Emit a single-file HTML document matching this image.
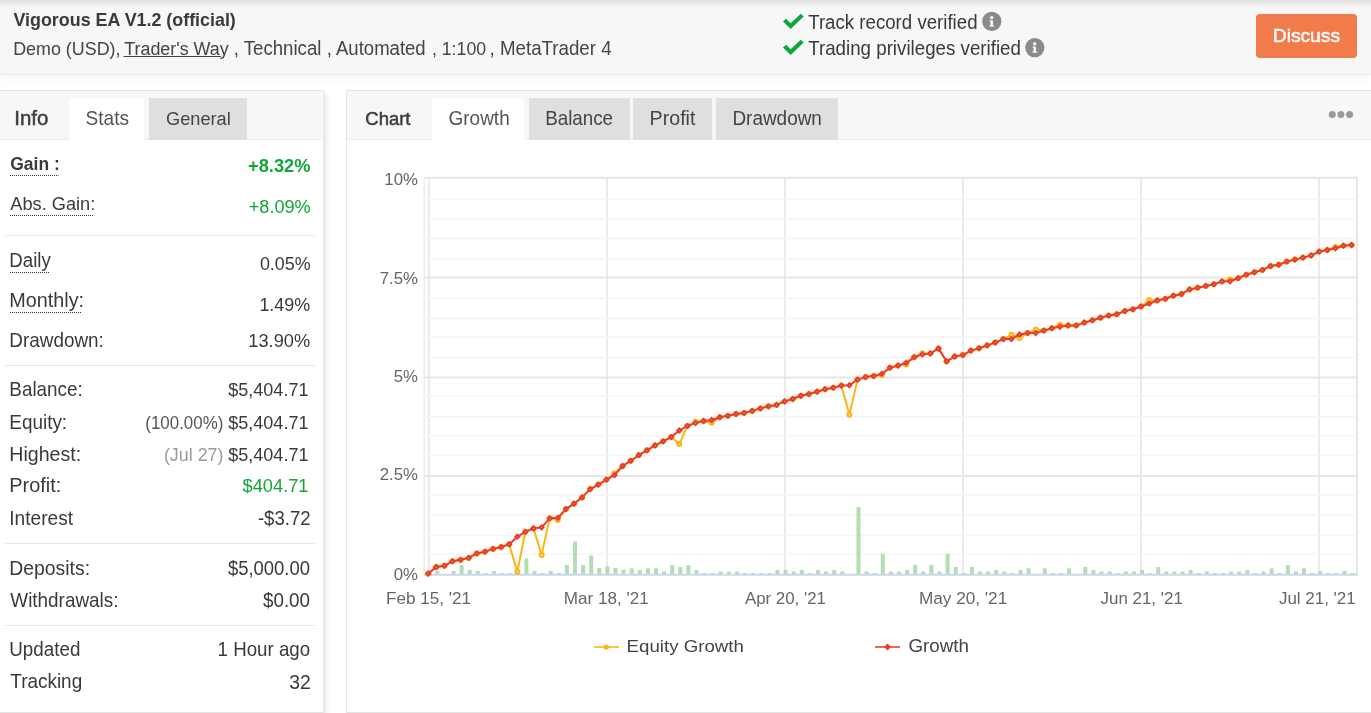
<!DOCTYPE html>
<html><head><meta charset="utf-8"><style>
html,body{margin:0;padding:0}
body{width:1371px;height:713px;overflow:hidden;position:relative;background:#fff;font-family:"Liberation Sans",sans-serif}
.t{position:absolute;white-space:nowrap}
.dot{border-bottom:1px dotted #333}
.abs{position:absolute}
</style></head><body>
<div class="abs" style="left:0;top:0;width:1371px;height:74px;background:#f7f7f7;border-bottom:1px solid #ebebeb;box-shadow:0 3px 9px rgba(0,0,0,0.045)"></div>
<div class="abs" style="left:0;top:0;width:1371px;height:8px;background:linear-gradient(#e2e2e2,#f7f7f7)"></div>
<div class="abs" style="left:1256px;top:14px;width:101px;height:44px;background:#f27b4c;border-radius:4px"></div>

<!-- left panel -->
<div class="abs" style="left:-1px;top:90px;width:323px;height:621px;border:1px solid #e4e4e4;background:#fff;box-shadow:3px 4px 5px rgba(0,0,60,0.09)"></div>
<div class="abs" style="left:0;top:91px;width:322px;height:48px;background:#f7f7f7;border-bottom:1px solid #ececec"></div>
<div class="abs" style="left:69px;top:98px;width:75px;height:43px;background:#fff"></div>
<div class="abs" style="left:149px;top:98px;width:98px;height:42px;background:#dfdfdf"></div>
<div class="abs" style="left:5px;top:235px;width:310px;height:1px;background:#e6e6e6"></div>
<div class="abs" style="left:5px;top:365px;width:310px;height:1px;background:#e6e6e6"></div>
<div class="abs" style="left:5px;top:543px;width:310px;height:1px;background:#e6e6e6"></div>
<div class="abs" style="left:5px;top:625px;width:310px;height:1px;background:#e6e6e6"></div>

<!-- chart panel -->
<div class="abs" style="left:346px;top:90px;width:1030px;height:621px;border:1px solid #e4e4e4;background:#fff"></div>
<div class="abs" style="left:347px;top:91px;width:1030px;height:48px;background:#f7f7f7;border-bottom:1px solid #ececec"></div>
<div class="abs" style="left:432px;top:98px;width:92px;height:43px;background:#fff"></div>
<div class="abs" style="left:529px;top:98px;width:101px;height:42px;background:#dfdfdf"></div>
<div class="abs" style="left:633px;top:98px;width:79px;height:42px;background:#dfdfdf"></div>
<div class="abs" style="left:716px;top:98px;width:122px;height:42px;background:#dfdfdf"></div>
<svg class="abs" style="left:0;top:0;will-change:transform" width="1371" height="713" viewBox="0 0 1371 713" font-family="Liberation Sans">
<circle cx="1332.3" cy="114.5" r="3.5" fill="#999"/><circle cx="1340.9" cy="114.5" r="3.5" fill="#999"/><circle cx="1349.6" cy="114.5" r="3.5" fill="#999"/>
<path d="M783 21.5L786 18.8L790.7 23.2L800.8 13.8L803.7 16.5L790.7 29.1Z" fill="#0aa83c"/>
<path d="M783 47.5L786 44.8L790.7 49.2L800.8 39.8L803.7 42.5L790.7 55.1Z" fill="#0aa83c"/>
<circle cx="991.8" cy="21.4" r="9.6" fill="#8a8a8a"/>
<circle cx="1034.8" cy="47.6" r="9.6" fill="#8a8a8a"/>
<g fill="#fff"><circle cx="991.7" cy="17.6" r="1.7"/><path d="M989.6 20.2h3.3v5h1.2v1.4h-4.6v-1.4h1.1v-3.6h-1z"/></g>
<g fill="#fff"><circle cx="1034.7" cy="43.8" r="1.7"/><path d="M1032.6 46.4h3.3v5h1.2v1.4h-4.6v-1.4h1.1v-3.6h-1z"/></g>
<line x1="429" x2="429" y1="178" y2="575" stroke="#e6e6e6" stroke-width="1.6"/>
<line x1="607" x2="607" y1="178" y2="575" stroke="#e6e6e6" stroke-width="1.6"/>
<line x1="785" x2="785" y1="178" y2="575" stroke="#e6e6e6" stroke-width="1.6"/>
<line x1="963" x2="963" y1="178" y2="575" stroke="#e6e6e6" stroke-width="1.6"/>
<line x1="1141" x2="1141" y1="178" y2="575" stroke="#e6e6e6" stroke-width="1.6"/>
<line x1="1319" x2="1319" y1="178" y2="575" stroke="#e6e6e6" stroke-width="1.6"/>
<line x1="424.3" x2="424.3" y1="178" y2="575" stroke="#ededed" stroke-width="1.6"/>
<line x1="1357" x2="1357" y1="177" y2="576" stroke="#e6e6e6" stroke-width="2"/>
<line x1="424" x2="1357" y1="199.6" y2="199.6" stroke="#f4f4f4" stroke-width="1.5"/>
<line x1="424" x2="1357" y1="218.9" y2="218.9" stroke="#f4f4f4" stroke-width="1.5"/>
<line x1="424" x2="1357" y1="238.4" y2="238.4" stroke="#f4f4f4" stroke-width="1.5"/>
<line x1="424" x2="1357" y1="259.0" y2="259.0" stroke="#f4f4f4" stroke-width="1.5"/>
<line x1="424" x2="1357" y1="298.2" y2="298.2" stroke="#f4f4f4" stroke-width="1.5"/>
<line x1="424" x2="1357" y1="318.6" y2="318.6" stroke="#f4f4f4" stroke-width="1.5"/>
<line x1="424" x2="1357" y1="337.1" y2="337.1" stroke="#f4f4f4" stroke-width="1.5"/>
<line x1="424" x2="1357" y1="357.5" y2="357.5" stroke="#f4f4f4" stroke-width="1.5"/>
<line x1="424" x2="1357" y1="396.2" y2="396.2" stroke="#f4f4f4" stroke-width="1.5"/>
<line x1="424" x2="1357" y1="416.8" y2="416.8" stroke="#f4f4f4" stroke-width="1.5"/>
<line x1="424" x2="1357" y1="435.6" y2="435.6" stroke="#f4f4f4" stroke-width="1.5"/>
<line x1="424" x2="1357" y1="455.6" y2="455.6" stroke="#f4f4f4" stroke-width="1.5"/>
<line x1="424" x2="1357" y1="495.0" y2="495.0" stroke="#f4f4f4" stroke-width="1.5"/>
<line x1="424" x2="1357" y1="515.1" y2="515.1" stroke="#f4f4f4" stroke-width="1.5"/>
<line x1="424" x2="1357" y1="535.6" y2="535.6" stroke="#f4f4f4" stroke-width="1.5"/>
<line x1="424" x2="1357" y1="554.1" y2="554.1" stroke="#f4f4f4" stroke-width="1.5"/>
<line x1="424" x2="1358" y1="177.7" y2="177.7" stroke="#e6e6e6" stroke-width="2"/>
<line x1="424" x2="1358" y1="277.5" y2="277.5" stroke="#e6e6e6" stroke-width="2"/>
<line x1="424" x2="1358" y1="377.5" y2="377.5" stroke="#e6e6e6" stroke-width="2"/>
<line x1="424" x2="1358" y1="476.1" y2="476.1" stroke="#e6e6e6" stroke-width="2"/>
<rect x="435.3" y="571.0" width="4" height="3" fill="#b3deb3"/>
<rect x="451.5" y="571.0" width="4" height="3" fill="#b3deb3"/>
<rect x="459.6" y="565.0" width="4" height="9" fill="#b3deb3"/>
<rect x="467.7" y="569.8" width="4" height="4.2" fill="#b3deb3"/>
<rect x="475.8" y="571.0" width="4" height="3" fill="#b3deb3"/>
<rect x="483.9" y="573.0" width="4" height="1" fill="#b3deb3"/>
<rect x="492.0" y="571.0" width="4" height="3" fill="#b3deb3"/>
<rect x="500.1" y="573.0" width="4" height="1" fill="#b3deb3"/>
<rect x="508.2" y="573.0" width="4" height="1" fill="#b3deb3"/>
<rect x="516.3" y="572.0" width="4" height="2" fill="#b3deb3"/>
<rect x="524.4" y="558.5" width="4" height="15.5" fill="#b3deb3"/>
<rect x="532.5" y="571.0" width="4" height="3" fill="#b3deb3"/>
<rect x="540.6" y="573.0" width="4" height="1" fill="#b3deb3"/>
<rect x="548.7" y="571.0" width="4" height="3" fill="#b3deb3"/>
<rect x="556.8" y="573.0" width="4" height="1" fill="#b3deb3"/>
<rect x="564.9" y="565.0" width="4" height="9" fill="#b3deb3"/>
<rect x="573.0" y="541.5" width="4" height="32.5" fill="#b3deb3"/>
<rect x="581.1" y="565.0" width="4" height="9" fill="#b3deb3"/>
<rect x="589.2" y="555.5" width="4" height="18.5" fill="#b3deb3"/>
<rect x="597.3" y="568.0" width="4" height="6" fill="#b3deb3"/>
<rect x="605.4" y="566.5" width="4" height="7.5" fill="#b3deb3"/>
<rect x="613.5" y="568.0" width="4" height="6" fill="#b3deb3"/>
<rect x="621.6" y="569.5" width="4" height="4.5" fill="#b3deb3"/>
<rect x="629.7" y="568.3" width="4" height="5.7" fill="#b3deb3"/>
<rect x="637.8" y="570.0" width="4" height="4" fill="#b3deb3"/>
<rect x="645.9" y="568.3" width="4" height="5.7" fill="#b3deb3"/>
<rect x="654.0" y="568.3" width="4" height="5.7" fill="#b3deb3"/>
<rect x="662.1" y="571.5" width="4" height="2.5" fill="#b3deb3"/>
<rect x="670.2" y="565.1" width="4" height="8.9" fill="#b3deb3"/>
<rect x="678.3" y="567.0" width="4" height="7" fill="#b3deb3"/>
<rect x="686.4" y="565.1" width="4" height="8.9" fill="#b3deb3"/>
<rect x="694.5" y="570.0" width="4" height="4" fill="#b3deb3"/>
<rect x="702.6" y="573.0" width="4" height="1" fill="#b3deb3"/>
<rect x="710.7" y="573.0" width="4" height="1" fill="#b3deb3"/>
<rect x="718.8" y="571.5" width="4" height="2.5" fill="#b3deb3"/>
<rect x="726.9" y="571.5" width="4" height="2.5" fill="#b3deb3"/>
<rect x="735.0" y="571.5" width="4" height="2.5" fill="#b3deb3"/>
<rect x="743.1" y="573.0" width="4" height="1" fill="#b3deb3"/>
<rect x="751.2" y="573.0" width="4" height="1" fill="#b3deb3"/>
<rect x="759.3" y="573.0" width="4" height="1" fill="#b3deb3"/>
<rect x="767.4" y="573.0" width="4" height="1" fill="#b3deb3"/>
<rect x="775.5" y="570.0" width="4" height="4" fill="#b3deb3"/>
<rect x="783.6" y="570.0" width="4" height="4" fill="#b3deb3"/>
<rect x="791.7" y="571.5" width="4" height="2.5" fill="#b3deb3"/>
<rect x="799.8" y="570.0" width="4" height="4" fill="#b3deb3"/>
<rect x="807.9" y="573.0" width="4" height="1" fill="#b3deb3"/>
<rect x="816.0" y="570.0" width="4" height="4" fill="#b3deb3"/>
<rect x="824.1" y="571.5" width="4" height="2.5" fill="#b3deb3"/>
<rect x="832.2" y="570.0" width="4" height="4" fill="#b3deb3"/>
<rect x="840.3" y="571.5" width="4" height="2.5" fill="#b3deb3"/>
<rect x="856.5" y="507.0" width="4" height="67" fill="#b3deb3"/>
<rect x="864.6" y="571.5" width="4" height="2.5" fill="#b3deb3"/>
<rect x="872.7" y="573.0" width="4" height="1" fill="#b3deb3"/>
<rect x="880.8" y="554.0" width="4" height="20" fill="#b3deb3"/>
<rect x="888.9" y="571.5" width="4" height="2.5" fill="#b3deb3"/>
<rect x="897.0" y="571.5" width="4" height="2.5" fill="#b3deb3"/>
<rect x="905.1" y="570.0" width="4" height="4" fill="#b3deb3"/>
<rect x="913.2" y="565.0" width="4" height="9" fill="#b3deb3"/>
<rect x="921.3" y="571.5" width="4" height="2.5" fill="#b3deb3"/>
<rect x="929.4" y="565.0" width="4" height="9" fill="#b3deb3"/>
<rect x="937.5" y="571.5" width="4" height="2.5" fill="#b3deb3"/>
<rect x="945.6" y="554.0" width="4" height="20" fill="#b3deb3"/>
<rect x="953.7" y="567.0" width="4" height="7" fill="#b3deb3"/>
<rect x="961.8" y="573.0" width="4" height="1" fill="#b3deb3"/>
<rect x="969.9" y="567.0" width="4" height="7" fill="#b3deb3"/>
<rect x="978.0" y="571.5" width="4" height="2.5" fill="#b3deb3"/>
<rect x="986.1" y="571.5" width="4" height="2.5" fill="#b3deb3"/>
<rect x="994.2" y="570.0" width="4" height="4" fill="#b3deb3"/>
<rect x="1002.3" y="571.5" width="4" height="2.5" fill="#b3deb3"/>
<rect x="1010.4" y="573.0" width="4" height="1" fill="#b3deb3"/>
<rect x="1018.5" y="570.0" width="4" height="4" fill="#b3deb3"/>
<rect x="1026.6" y="568.3" width="4" height="5.7" fill="#b3deb3"/>
<rect x="1042.8" y="568.3" width="4" height="5.7" fill="#b3deb3"/>
<rect x="1050.9" y="573.0" width="4" height="1" fill="#b3deb3"/>
<rect x="1059.0" y="573.0" width="4" height="1" fill="#b3deb3"/>
<rect x="1067.1" y="568.3" width="4" height="5.7" fill="#b3deb3"/>
<rect x="1083.3" y="567.0" width="4" height="7" fill="#b3deb3"/>
<rect x="1091.4" y="570.0" width="4" height="4" fill="#b3deb3"/>
<rect x="1099.5" y="571.5" width="4" height="2.5" fill="#b3deb3"/>
<rect x="1107.6" y="571.5" width="4" height="2.5" fill="#b3deb3"/>
<rect x="1115.7" y="573.0" width="4" height="1" fill="#b3deb3"/>
<rect x="1123.8" y="571.5" width="4" height="2.5" fill="#b3deb3"/>
<rect x="1131.9" y="571.5" width="4" height="2.5" fill="#b3deb3"/>
<rect x="1140.0" y="570.0" width="4" height="4" fill="#b3deb3"/>
<rect x="1148.1" y="573.0" width="4" height="1" fill="#b3deb3"/>
<rect x="1156.2" y="567.0" width="4" height="7" fill="#b3deb3"/>
<rect x="1164.3" y="571.5" width="4" height="2.5" fill="#b3deb3"/>
<rect x="1172.4" y="571.5" width="4" height="2.5" fill="#b3deb3"/>
<rect x="1180.5" y="571.5" width="4" height="2.5" fill="#b3deb3"/>
<rect x="1188.6" y="570.0" width="4" height="4" fill="#b3deb3"/>
<rect x="1196.7" y="573.0" width="4" height="1" fill="#b3deb3"/>
<rect x="1204.8" y="571.5" width="4" height="2.5" fill="#b3deb3"/>
<rect x="1212.9" y="573.0" width="4" height="1" fill="#b3deb3"/>
<rect x="1221.0" y="573.0" width="4" height="1" fill="#b3deb3"/>
<rect x="1229.1" y="571.5" width="4" height="2.5" fill="#b3deb3"/>
<rect x="1237.2" y="571.5" width="4" height="2.5" fill="#b3deb3"/>
<rect x="1245.3" y="570.0" width="4" height="4" fill="#b3deb3"/>
<rect x="1253.4" y="573.0" width="4" height="1" fill="#b3deb3"/>
<rect x="1261.5" y="571.5" width="4" height="2.5" fill="#b3deb3"/>
<rect x="1269.6" y="568.3" width="4" height="5.7" fill="#b3deb3"/>
<rect x="1277.7" y="573.0" width="4" height="1" fill="#b3deb3"/>
<rect x="1285.8" y="565.1" width="4" height="8.9" fill="#b3deb3"/>
<rect x="1293.9" y="571.5" width="4" height="2.5" fill="#b3deb3"/>
<rect x="1302.0" y="568.3" width="4" height="5.7" fill="#b3deb3"/>
<rect x="1310.1" y="573.0" width="4" height="1" fill="#b3deb3"/>
<rect x="1318.2" y="571.0" width="4" height="3" fill="#b3deb3"/>
<rect x="1326.3" y="573.0" width="4" height="1" fill="#b3deb3"/>
<rect x="1334.4" y="573.0" width="4" height="1" fill="#b3deb3"/>
<rect x="1342.5" y="571.0" width="4" height="3" fill="#b3deb3"/>
<rect x="1350.6" y="573.0" width="4" height="1" fill="#b3deb3"/>
<line x1="424" x2="1357" y1="574.8" y2="574.8" stroke="#ccd6eb" stroke-width="2"/>
<polyline points="428.2,573.6 436.3,567.0 444.4,565.8 452.5,561.2 460.6,559.8 468.7,557.9 476.8,553.4 484.9,551.7 493.0,548.9 501.1,547.1 509.2,544.3 517.3,571.8 525.4,531.8 533.5,528.4 541.6,554.9 549.7,518.3 557.8,519.9 565.9,509.1 574.0,503.7 582.1,497.4 590.2,489.1 598.3,484.6 606.4,479.7 614.5,473.2 622.6,466.0 630.7,460.8 638.8,455.2 646.9,450.3 655.0,445.4 663.1,441.3 671.2,437.1 679.3,444.1 687.4,425.9 695.5,421.7 703.6,421.0 711.7,422.8 719.8,417.2 727.9,415.8 736.0,414.0 744.1,412.9 752.2,410.9 760.3,408.4 768.4,406.3 776.5,404.9 784.6,401.4 792.7,399.0 800.8,395.8 808.9,394.1 817.0,391.7 825.1,389.2 833.2,387.7 841.3,385.6 849.4,414.7 857.5,379.6 865.6,377.1 873.7,376.1 881.8,375.0 889.9,367.7 898.0,365.6 906.1,364.6 914.2,357.2 922.3,353.2 930.4,353.4 938.5,348.5 946.6,361.4 954.7,356.5 962.8,355.1 970.9,350.6 979.0,348.3 987.1,345.4 995.2,342.6 1003.3,339.1 1011.4,334.8 1019.5,338.0 1027.6,333.1 1035.7,329.6 1043.8,330.6 1051.9,328.2 1060.0,324.7 1068.1,325.4 1076.2,325.4 1084.3,322.6 1092.4,320.2 1100.5,317.7 1108.6,315.6 1116.7,314.2 1124.8,311.1 1132.9,309.3 1141.0,306.5 1149.1,299.9 1157.2,300.4 1165.3,298.8 1173.4,295.7 1181.5,294.0 1189.6,289.4 1197.7,287.7 1205.8,285.9 1213.9,284.2 1222.0,281.4 1230.1,279.6 1238.2,278.2 1246.3,274.7 1254.4,272.3 1262.5,269.9 1270.6,266.1 1278.7,264.7 1286.8,261.6 1294.9,259.6 1303.0,257.6 1311.1,255.4 1319.2,251.6 1327.3,250.0 1335.4,247.0 1343.5,245.7 1351.6,245.0" fill="none" stroke="#fbb615" stroke-width="2" stroke-linejoin="round"/>
<circle cx="428.2" cy="573.6" r="3" fill="#fbb615"/><circle cx="428.2" cy="573.6" r="0.9" fill="#fde7a0"/>
<circle cx="436.3" cy="567.0" r="3" fill="#fbb615"/><circle cx="436.3" cy="567.0" r="0.9" fill="#fde7a0"/>
<circle cx="444.4" cy="565.8" r="3" fill="#fbb615"/><circle cx="444.4" cy="565.8" r="0.9" fill="#fde7a0"/>
<circle cx="452.5" cy="561.2" r="3" fill="#fbb615"/><circle cx="452.5" cy="561.2" r="0.9" fill="#fde7a0"/>
<circle cx="460.6" cy="559.8" r="3" fill="#fbb615"/><circle cx="460.6" cy="559.8" r="0.9" fill="#fde7a0"/>
<circle cx="468.7" cy="557.9" r="3" fill="#fbb615"/><circle cx="468.7" cy="557.9" r="0.9" fill="#fde7a0"/>
<circle cx="476.8" cy="553.4" r="3" fill="#fbb615"/><circle cx="476.8" cy="553.4" r="0.9" fill="#fde7a0"/>
<circle cx="484.9" cy="551.7" r="3" fill="#fbb615"/><circle cx="484.9" cy="551.7" r="0.9" fill="#fde7a0"/>
<circle cx="493.0" cy="548.9" r="3" fill="#fbb615"/><circle cx="493.0" cy="548.9" r="0.9" fill="#fde7a0"/>
<circle cx="501.1" cy="547.1" r="3" fill="#fbb615"/><circle cx="501.1" cy="547.1" r="0.9" fill="#fde7a0"/>
<circle cx="509.2" cy="544.3" r="3" fill="#fbb615"/><circle cx="509.2" cy="544.3" r="0.9" fill="#fde7a0"/>
<circle cx="517.3" cy="571.8" r="3" fill="#fbb615"/><circle cx="517.3" cy="571.8" r="0.9" fill="#fde7a0"/>
<circle cx="525.4" cy="531.8" r="3" fill="#fbb615"/><circle cx="525.4" cy="531.8" r="0.9" fill="#fde7a0"/>
<circle cx="533.5" cy="528.4" r="3" fill="#fbb615"/><circle cx="533.5" cy="528.4" r="0.9" fill="#fde7a0"/>
<circle cx="541.6" cy="554.9" r="3" fill="#fbb615"/><circle cx="541.6" cy="554.9" r="0.9" fill="#fde7a0"/>
<circle cx="549.7" cy="518.3" r="3" fill="#fbb615"/><circle cx="549.7" cy="518.3" r="0.9" fill="#fde7a0"/>
<circle cx="557.8" cy="519.9" r="3" fill="#fbb615"/><circle cx="557.8" cy="519.9" r="0.9" fill="#fde7a0"/>
<circle cx="565.9" cy="509.1" r="3" fill="#fbb615"/><circle cx="565.9" cy="509.1" r="0.9" fill="#fde7a0"/>
<circle cx="574.0" cy="503.7" r="3" fill="#fbb615"/><circle cx="574.0" cy="503.7" r="0.9" fill="#fde7a0"/>
<circle cx="582.1" cy="497.4" r="3" fill="#fbb615"/><circle cx="582.1" cy="497.4" r="0.9" fill="#fde7a0"/>
<circle cx="590.2" cy="489.1" r="3" fill="#fbb615"/><circle cx="590.2" cy="489.1" r="0.9" fill="#fde7a0"/>
<circle cx="598.3" cy="484.6" r="3" fill="#fbb615"/><circle cx="598.3" cy="484.6" r="0.9" fill="#fde7a0"/>
<circle cx="606.4" cy="479.7" r="3" fill="#fbb615"/><circle cx="606.4" cy="479.7" r="0.9" fill="#fde7a0"/>
<circle cx="614.5" cy="473.2" r="3" fill="#fbb615"/><circle cx="614.5" cy="473.2" r="0.9" fill="#fde7a0"/>
<circle cx="622.6" cy="466.0" r="3" fill="#fbb615"/><circle cx="622.6" cy="466.0" r="0.9" fill="#fde7a0"/>
<circle cx="630.7" cy="460.8" r="3" fill="#fbb615"/><circle cx="630.7" cy="460.8" r="0.9" fill="#fde7a0"/>
<circle cx="638.8" cy="455.2" r="3" fill="#fbb615"/><circle cx="638.8" cy="455.2" r="0.9" fill="#fde7a0"/>
<circle cx="646.9" cy="450.3" r="3" fill="#fbb615"/><circle cx="646.9" cy="450.3" r="0.9" fill="#fde7a0"/>
<circle cx="655.0" cy="445.4" r="3" fill="#fbb615"/><circle cx="655.0" cy="445.4" r="0.9" fill="#fde7a0"/>
<circle cx="663.1" cy="441.3" r="3" fill="#fbb615"/><circle cx="663.1" cy="441.3" r="0.9" fill="#fde7a0"/>
<circle cx="671.2" cy="437.1" r="3" fill="#fbb615"/><circle cx="671.2" cy="437.1" r="0.9" fill="#fde7a0"/>
<circle cx="679.3" cy="444.1" r="3" fill="#fbb615"/><circle cx="679.3" cy="444.1" r="0.9" fill="#fde7a0"/>
<circle cx="687.4" cy="425.9" r="3" fill="#fbb615"/><circle cx="687.4" cy="425.9" r="0.9" fill="#fde7a0"/>
<circle cx="695.5" cy="421.7" r="3" fill="#fbb615"/><circle cx="695.5" cy="421.7" r="0.9" fill="#fde7a0"/>
<circle cx="703.6" cy="421.0" r="3" fill="#fbb615"/><circle cx="703.6" cy="421.0" r="0.9" fill="#fde7a0"/>
<circle cx="711.7" cy="422.8" r="3" fill="#fbb615"/><circle cx="711.7" cy="422.8" r="0.9" fill="#fde7a0"/>
<circle cx="719.8" cy="417.2" r="3" fill="#fbb615"/><circle cx="719.8" cy="417.2" r="0.9" fill="#fde7a0"/>
<circle cx="727.9" cy="415.8" r="3" fill="#fbb615"/><circle cx="727.9" cy="415.8" r="0.9" fill="#fde7a0"/>
<circle cx="736.0" cy="414.0" r="3" fill="#fbb615"/><circle cx="736.0" cy="414.0" r="0.9" fill="#fde7a0"/>
<circle cx="744.1" cy="412.9" r="3" fill="#fbb615"/><circle cx="744.1" cy="412.9" r="0.9" fill="#fde7a0"/>
<circle cx="752.2" cy="410.9" r="3" fill="#fbb615"/><circle cx="752.2" cy="410.9" r="0.9" fill="#fde7a0"/>
<circle cx="760.3" cy="408.4" r="3" fill="#fbb615"/><circle cx="760.3" cy="408.4" r="0.9" fill="#fde7a0"/>
<circle cx="768.4" cy="406.3" r="3" fill="#fbb615"/><circle cx="768.4" cy="406.3" r="0.9" fill="#fde7a0"/>
<circle cx="776.5" cy="404.9" r="3" fill="#fbb615"/><circle cx="776.5" cy="404.9" r="0.9" fill="#fde7a0"/>
<circle cx="784.6" cy="401.4" r="3" fill="#fbb615"/><circle cx="784.6" cy="401.4" r="0.9" fill="#fde7a0"/>
<circle cx="792.7" cy="399.0" r="3" fill="#fbb615"/><circle cx="792.7" cy="399.0" r="0.9" fill="#fde7a0"/>
<circle cx="800.8" cy="395.8" r="3" fill="#fbb615"/><circle cx="800.8" cy="395.8" r="0.9" fill="#fde7a0"/>
<circle cx="808.9" cy="394.1" r="3" fill="#fbb615"/><circle cx="808.9" cy="394.1" r="0.9" fill="#fde7a0"/>
<circle cx="817.0" cy="391.7" r="3" fill="#fbb615"/><circle cx="817.0" cy="391.7" r="0.9" fill="#fde7a0"/>
<circle cx="825.1" cy="389.2" r="3" fill="#fbb615"/><circle cx="825.1" cy="389.2" r="0.9" fill="#fde7a0"/>
<circle cx="833.2" cy="387.7" r="3" fill="#fbb615"/><circle cx="833.2" cy="387.7" r="0.9" fill="#fde7a0"/>
<circle cx="841.3" cy="385.6" r="3" fill="#fbb615"/><circle cx="841.3" cy="385.6" r="0.9" fill="#fde7a0"/>
<circle cx="849.4" cy="414.7" r="3" fill="#fbb615"/><circle cx="849.4" cy="414.7" r="0.9" fill="#fde7a0"/>
<circle cx="857.5" cy="379.6" r="3" fill="#fbb615"/><circle cx="857.5" cy="379.6" r="0.9" fill="#fde7a0"/>
<circle cx="865.6" cy="377.1" r="3" fill="#fbb615"/><circle cx="865.6" cy="377.1" r="0.9" fill="#fde7a0"/>
<circle cx="873.7" cy="376.1" r="3" fill="#fbb615"/><circle cx="873.7" cy="376.1" r="0.9" fill="#fde7a0"/>
<circle cx="881.8" cy="375.0" r="3" fill="#fbb615"/><circle cx="881.8" cy="375.0" r="0.9" fill="#fde7a0"/>
<circle cx="889.9" cy="367.7" r="3" fill="#fbb615"/><circle cx="889.9" cy="367.7" r="0.9" fill="#fde7a0"/>
<circle cx="898.0" cy="365.6" r="3" fill="#fbb615"/><circle cx="898.0" cy="365.6" r="0.9" fill="#fde7a0"/>
<circle cx="906.1" cy="364.6" r="3" fill="#fbb615"/><circle cx="906.1" cy="364.6" r="0.9" fill="#fde7a0"/>
<circle cx="914.2" cy="357.2" r="3" fill="#fbb615"/><circle cx="914.2" cy="357.2" r="0.9" fill="#fde7a0"/>
<circle cx="922.3" cy="353.2" r="3" fill="#fbb615"/><circle cx="922.3" cy="353.2" r="0.9" fill="#fde7a0"/>
<circle cx="930.4" cy="353.4" r="3" fill="#fbb615"/><circle cx="930.4" cy="353.4" r="0.9" fill="#fde7a0"/>
<circle cx="938.5" cy="348.5" r="3" fill="#fbb615"/><circle cx="938.5" cy="348.5" r="0.9" fill="#fde7a0"/>
<circle cx="946.6" cy="361.4" r="3" fill="#fbb615"/><circle cx="946.6" cy="361.4" r="0.9" fill="#fde7a0"/>
<circle cx="954.7" cy="356.5" r="3" fill="#fbb615"/><circle cx="954.7" cy="356.5" r="0.9" fill="#fde7a0"/>
<circle cx="962.8" cy="355.1" r="3" fill="#fbb615"/><circle cx="962.8" cy="355.1" r="0.9" fill="#fde7a0"/>
<circle cx="970.9" cy="350.6" r="3" fill="#fbb615"/><circle cx="970.9" cy="350.6" r="0.9" fill="#fde7a0"/>
<circle cx="979.0" cy="348.3" r="3" fill="#fbb615"/><circle cx="979.0" cy="348.3" r="0.9" fill="#fde7a0"/>
<circle cx="987.1" cy="345.4" r="3" fill="#fbb615"/><circle cx="987.1" cy="345.4" r="0.9" fill="#fde7a0"/>
<circle cx="995.2" cy="342.6" r="3" fill="#fbb615"/><circle cx="995.2" cy="342.6" r="0.9" fill="#fde7a0"/>
<circle cx="1003.3" cy="339.1" r="3" fill="#fbb615"/><circle cx="1003.3" cy="339.1" r="0.9" fill="#fde7a0"/>
<circle cx="1011.4" cy="334.8" r="3" fill="#fbb615"/><circle cx="1011.4" cy="334.8" r="0.9" fill="#fde7a0"/>
<circle cx="1019.5" cy="338.0" r="3" fill="#fbb615"/><circle cx="1019.5" cy="338.0" r="0.9" fill="#fde7a0"/>
<circle cx="1027.6" cy="333.1" r="3" fill="#fbb615"/><circle cx="1027.6" cy="333.1" r="0.9" fill="#fde7a0"/>
<circle cx="1035.7" cy="329.6" r="3" fill="#fbb615"/><circle cx="1035.7" cy="329.6" r="0.9" fill="#fde7a0"/>
<circle cx="1043.8" cy="330.6" r="3" fill="#fbb615"/><circle cx="1043.8" cy="330.6" r="0.9" fill="#fde7a0"/>
<circle cx="1051.9" cy="328.2" r="3" fill="#fbb615"/><circle cx="1051.9" cy="328.2" r="0.9" fill="#fde7a0"/>
<circle cx="1060.0" cy="324.7" r="3" fill="#fbb615"/><circle cx="1060.0" cy="324.7" r="0.9" fill="#fde7a0"/>
<circle cx="1068.1" cy="325.4" r="3" fill="#fbb615"/><circle cx="1068.1" cy="325.4" r="0.9" fill="#fde7a0"/>
<circle cx="1076.2" cy="325.4" r="3" fill="#fbb615"/><circle cx="1076.2" cy="325.4" r="0.9" fill="#fde7a0"/>
<circle cx="1084.3" cy="322.6" r="3" fill="#fbb615"/><circle cx="1084.3" cy="322.6" r="0.9" fill="#fde7a0"/>
<circle cx="1092.4" cy="320.2" r="3" fill="#fbb615"/><circle cx="1092.4" cy="320.2" r="0.9" fill="#fde7a0"/>
<circle cx="1100.5" cy="317.7" r="3" fill="#fbb615"/><circle cx="1100.5" cy="317.7" r="0.9" fill="#fde7a0"/>
<circle cx="1108.6" cy="315.6" r="3" fill="#fbb615"/><circle cx="1108.6" cy="315.6" r="0.9" fill="#fde7a0"/>
<circle cx="1116.7" cy="314.2" r="3" fill="#fbb615"/><circle cx="1116.7" cy="314.2" r="0.9" fill="#fde7a0"/>
<circle cx="1124.8" cy="311.1" r="3" fill="#fbb615"/><circle cx="1124.8" cy="311.1" r="0.9" fill="#fde7a0"/>
<circle cx="1132.9" cy="309.3" r="3" fill="#fbb615"/><circle cx="1132.9" cy="309.3" r="0.9" fill="#fde7a0"/>
<circle cx="1141.0" cy="306.5" r="3" fill="#fbb615"/><circle cx="1141.0" cy="306.5" r="0.9" fill="#fde7a0"/>
<circle cx="1149.1" cy="299.9" r="3" fill="#fbb615"/><circle cx="1149.1" cy="299.9" r="0.9" fill="#fde7a0"/>
<circle cx="1157.2" cy="300.4" r="3" fill="#fbb615"/><circle cx="1157.2" cy="300.4" r="0.9" fill="#fde7a0"/>
<circle cx="1165.3" cy="298.8" r="3" fill="#fbb615"/><circle cx="1165.3" cy="298.8" r="0.9" fill="#fde7a0"/>
<circle cx="1173.4" cy="295.7" r="3" fill="#fbb615"/><circle cx="1173.4" cy="295.7" r="0.9" fill="#fde7a0"/>
<circle cx="1181.5" cy="294.0" r="3" fill="#fbb615"/><circle cx="1181.5" cy="294.0" r="0.9" fill="#fde7a0"/>
<circle cx="1189.6" cy="289.4" r="3" fill="#fbb615"/><circle cx="1189.6" cy="289.4" r="0.9" fill="#fde7a0"/>
<circle cx="1197.7" cy="287.7" r="3" fill="#fbb615"/><circle cx="1197.7" cy="287.7" r="0.9" fill="#fde7a0"/>
<circle cx="1205.8" cy="285.9" r="3" fill="#fbb615"/><circle cx="1205.8" cy="285.9" r="0.9" fill="#fde7a0"/>
<circle cx="1213.9" cy="284.2" r="3" fill="#fbb615"/><circle cx="1213.9" cy="284.2" r="0.9" fill="#fde7a0"/>
<circle cx="1222.0" cy="281.4" r="3" fill="#fbb615"/><circle cx="1222.0" cy="281.4" r="0.9" fill="#fde7a0"/>
<circle cx="1230.1" cy="279.6" r="3" fill="#fbb615"/><circle cx="1230.1" cy="279.6" r="0.9" fill="#fde7a0"/>
<circle cx="1238.2" cy="278.2" r="3" fill="#fbb615"/><circle cx="1238.2" cy="278.2" r="0.9" fill="#fde7a0"/>
<circle cx="1246.3" cy="274.7" r="3" fill="#fbb615"/><circle cx="1246.3" cy="274.7" r="0.9" fill="#fde7a0"/>
<circle cx="1254.4" cy="272.3" r="3" fill="#fbb615"/><circle cx="1254.4" cy="272.3" r="0.9" fill="#fde7a0"/>
<circle cx="1262.5" cy="269.9" r="3" fill="#fbb615"/><circle cx="1262.5" cy="269.9" r="0.9" fill="#fde7a0"/>
<circle cx="1270.6" cy="266.1" r="3" fill="#fbb615"/><circle cx="1270.6" cy="266.1" r="0.9" fill="#fde7a0"/>
<circle cx="1278.7" cy="264.7" r="3" fill="#fbb615"/><circle cx="1278.7" cy="264.7" r="0.9" fill="#fde7a0"/>
<circle cx="1286.8" cy="261.6" r="3" fill="#fbb615"/><circle cx="1286.8" cy="261.6" r="0.9" fill="#fde7a0"/>
<circle cx="1294.9" cy="259.6" r="3" fill="#fbb615"/><circle cx="1294.9" cy="259.6" r="0.9" fill="#fde7a0"/>
<circle cx="1303.0" cy="257.6" r="3" fill="#fbb615"/><circle cx="1303.0" cy="257.6" r="0.9" fill="#fde7a0"/>
<circle cx="1311.1" cy="255.4" r="3" fill="#fbb615"/><circle cx="1311.1" cy="255.4" r="0.9" fill="#fde7a0"/>
<circle cx="1319.2" cy="251.6" r="3" fill="#fbb615"/><circle cx="1319.2" cy="251.6" r="0.9" fill="#fde7a0"/>
<circle cx="1327.3" cy="250.0" r="3" fill="#fbb615"/><circle cx="1327.3" cy="250.0" r="0.9" fill="#fde7a0"/>
<circle cx="1335.4" cy="247.0" r="3" fill="#fbb615"/><circle cx="1335.4" cy="247.0" r="0.9" fill="#fde7a0"/>
<circle cx="1343.5" cy="245.7" r="3" fill="#fbb615"/><circle cx="1343.5" cy="245.7" r="0.9" fill="#fde7a0"/>
<circle cx="1351.6" cy="245.0" r="3" fill="#fbb615"/><circle cx="1351.6" cy="245.0" r="0.9" fill="#fde7a0"/>
<polyline points="428.2,573.6 436.3,567.0 444.4,565.8 452.5,561.2 460.6,559.8 468.7,557.9 476.8,553.4 484.9,551.7 493.0,548.9 501.1,547.1 509.2,544.3 517.3,536.7 525.4,531.8 533.5,528.4 541.6,527.3 549.7,518.3 557.8,517.8 565.9,509.1 574.0,503.7 582.1,497.4 590.2,489.1 598.3,484.6 606.4,479.7 614.5,475.2 622.6,466.0 630.7,460.8 638.8,455.2 646.9,450.3 655.0,445.4 663.1,441.3 671.2,437.1 679.3,430.5 687.4,425.9 695.5,423.1 703.6,421.0 711.7,420.0 719.8,417.2 727.9,415.8 736.0,414.0 744.1,412.9 752.2,410.9 760.3,408.4 768.4,406.3 776.5,404.9 784.6,401.4 792.7,399.0 800.8,395.8 808.9,394.1 817.0,391.7 825.1,389.2 833.2,387.7 841.3,385.6 849.4,385.2 857.5,379.6 865.6,377.1 873.7,376.1 881.8,373.7 889.9,367.7 898.0,365.6 906.1,362.8 914.2,357.2 922.3,354.4 930.4,353.4 938.5,348.5 946.6,361.4 954.7,356.5 962.8,355.1 970.9,350.6 979.0,348.3 987.1,345.4 995.2,342.6 1003.3,339.1 1011.4,339.1 1019.5,334.5 1027.6,333.1 1035.7,333.1 1043.8,330.6 1051.9,328.2 1060.0,326.8 1068.1,325.4 1076.2,325.4 1084.3,322.6 1092.4,320.2 1100.5,317.7 1108.6,315.6 1116.7,314.2 1124.8,311.1 1132.9,309.3 1141.0,306.5 1149.1,303.7 1157.2,300.4 1165.3,298.8 1173.4,295.7 1181.5,294.0 1189.6,289.4 1197.7,287.7 1205.8,285.9 1213.9,284.2 1222.0,281.4 1230.1,281.3 1238.2,278.2 1246.3,274.7 1254.4,272.3 1262.5,269.9 1270.6,266.1 1278.7,264.7 1286.8,261.6 1294.9,259.6 1303.0,257.6 1311.1,255.4 1319.2,251.6 1327.3,250.0 1335.4,248.3 1343.5,245.7 1351.6,245.0" fill="none" stroke="#e8402e" stroke-width="2" stroke-linejoin="round"/>
<path d="M428.2 570.2L431.6 573.6L428.2 577.0L424.8 573.6Z" fill="#e83a2c"/><circle cx="428.2" cy="573.6" r="0.55" fill="#f4a095"/>
<path d="M436.3 563.6L439.7 567.0L436.3 570.4L432.9 567.0Z" fill="#e83a2c"/><circle cx="436.3" cy="567.0" r="0.55" fill="#f4a095"/>
<path d="M444.4 562.4L447.8 565.8L444.4 569.2L441.0 565.8Z" fill="#e83a2c"/><circle cx="444.4" cy="565.8" r="0.55" fill="#f4a095"/>
<path d="M452.5 557.8L455.9 561.2L452.5 564.6L449.1 561.2Z" fill="#e83a2c"/><circle cx="452.5" cy="561.2" r="0.55" fill="#f4a095"/>
<path d="M460.6 556.4L464.0 559.8L460.6 563.2L457.2 559.8Z" fill="#e83a2c"/><circle cx="460.6" cy="559.8" r="0.55" fill="#f4a095"/>
<path d="M468.7 554.5L472.1 557.9L468.7 561.3L465.3 557.9Z" fill="#e83a2c"/><circle cx="468.7" cy="557.9" r="0.55" fill="#f4a095"/>
<path d="M476.8 550.0L480.2 553.4L476.8 556.8L473.4 553.4Z" fill="#e83a2c"/><circle cx="476.8" cy="553.4" r="0.55" fill="#f4a095"/>
<path d="M484.9 548.3L488.3 551.7L484.9 555.1L481.5 551.7Z" fill="#e83a2c"/><circle cx="484.9" cy="551.7" r="0.55" fill="#f4a095"/>
<path d="M493.0 545.5L496.4 548.9L493.0 552.3L489.6 548.9Z" fill="#e83a2c"/><circle cx="493.0" cy="548.9" r="0.55" fill="#f4a095"/>
<path d="M501.1 543.7L504.5 547.1L501.1 550.5L497.7 547.1Z" fill="#e83a2c"/><circle cx="501.1" cy="547.1" r="0.55" fill="#f4a095"/>
<path d="M509.2 540.9L512.6 544.3L509.2 547.7L505.8 544.3Z" fill="#e83a2c"/><circle cx="509.2" cy="544.3" r="0.55" fill="#f4a095"/>
<path d="M517.3 533.3L520.7 536.7L517.3 540.1L513.9 536.7Z" fill="#e83a2c"/><circle cx="517.3" cy="536.7" r="0.55" fill="#f4a095"/>
<path d="M525.4 528.4L528.8 531.8L525.4 535.2L522.0 531.8Z" fill="#e83a2c"/><circle cx="525.4" cy="531.8" r="0.55" fill="#f4a095"/>
<path d="M533.5 525.0L536.9 528.4L533.5 531.8L530.1 528.4Z" fill="#e83a2c"/><circle cx="533.5" cy="528.4" r="0.55" fill="#f4a095"/>
<path d="M541.6 523.9L545.0 527.3L541.6 530.7L538.2 527.3Z" fill="#e83a2c"/><circle cx="541.6" cy="527.3" r="0.55" fill="#f4a095"/>
<path d="M549.7 514.9L553.1 518.3L549.7 521.7L546.3 518.3Z" fill="#e83a2c"/><circle cx="549.7" cy="518.3" r="0.55" fill="#f4a095"/>
<path d="M557.8 514.4L561.2 517.8L557.8 521.2L554.4 517.8Z" fill="#e83a2c"/><circle cx="557.8" cy="517.8" r="0.55" fill="#f4a095"/>
<path d="M565.9 505.7L569.3 509.1L565.9 512.5L562.5 509.1Z" fill="#e83a2c"/><circle cx="565.9" cy="509.1" r="0.55" fill="#f4a095"/>
<path d="M574.0 500.3L577.4 503.7L574.0 507.1L570.6 503.7Z" fill="#e83a2c"/><circle cx="574.0" cy="503.7" r="0.55" fill="#f4a095"/>
<path d="M582.1 494.0L585.5 497.4L582.1 500.8L578.7 497.4Z" fill="#e83a2c"/><circle cx="582.1" cy="497.4" r="0.55" fill="#f4a095"/>
<path d="M590.2 485.7L593.6 489.1L590.2 492.5L586.8 489.1Z" fill="#e83a2c"/><circle cx="590.2" cy="489.1" r="0.55" fill="#f4a095"/>
<path d="M598.3 481.2L601.7 484.6L598.3 488.0L594.9 484.6Z" fill="#e83a2c"/><circle cx="598.3" cy="484.6" r="0.55" fill="#f4a095"/>
<path d="M606.4 476.3L609.8 479.7L606.4 483.1L603.0 479.7Z" fill="#e83a2c"/><circle cx="606.4" cy="479.7" r="0.55" fill="#f4a095"/>
<path d="M614.5 471.8L617.9 475.2L614.5 478.6L611.1 475.2Z" fill="#e83a2c"/><circle cx="614.5" cy="475.2" r="0.55" fill="#f4a095"/>
<path d="M622.6 462.6L626.0 466.0L622.6 469.4L619.2 466.0Z" fill="#e83a2c"/><circle cx="622.6" cy="466.0" r="0.55" fill="#f4a095"/>
<path d="M630.7 457.4L634.1 460.8L630.7 464.2L627.3 460.8Z" fill="#e83a2c"/><circle cx="630.7" cy="460.8" r="0.55" fill="#f4a095"/>
<path d="M638.8 451.8L642.2 455.2L638.8 458.6L635.4 455.2Z" fill="#e83a2c"/><circle cx="638.8" cy="455.2" r="0.55" fill="#f4a095"/>
<path d="M646.9 446.9L650.3 450.3L646.9 453.7L643.5 450.3Z" fill="#e83a2c"/><circle cx="646.9" cy="450.3" r="0.55" fill="#f4a095"/>
<path d="M655.0 442.0L658.4 445.4L655.0 448.8L651.6 445.4Z" fill="#e83a2c"/><circle cx="655.0" cy="445.4" r="0.55" fill="#f4a095"/>
<path d="M663.1 437.9L666.5 441.3L663.1 444.7L659.7 441.3Z" fill="#e83a2c"/><circle cx="663.1" cy="441.3" r="0.55" fill="#f4a095"/>
<path d="M671.2 433.7L674.6 437.1L671.2 440.5L667.8 437.1Z" fill="#e83a2c"/><circle cx="671.2" cy="437.1" r="0.55" fill="#f4a095"/>
<path d="M679.3 427.1L682.7 430.5L679.3 433.9L675.9 430.5Z" fill="#e83a2c"/><circle cx="679.3" cy="430.5" r="0.55" fill="#f4a095"/>
<path d="M687.4 422.5L690.8 425.9L687.4 429.3L684.0 425.9Z" fill="#e83a2c"/><circle cx="687.4" cy="425.9" r="0.55" fill="#f4a095"/>
<path d="M695.5 419.7L698.9 423.1L695.5 426.5L692.1 423.1Z" fill="#e83a2c"/><circle cx="695.5" cy="423.1" r="0.55" fill="#f4a095"/>
<path d="M703.6 417.6L707.0 421.0L703.6 424.4L700.2 421.0Z" fill="#e83a2c"/><circle cx="703.6" cy="421.0" r="0.55" fill="#f4a095"/>
<path d="M711.7 416.6L715.1 420.0L711.7 423.4L708.3 420.0Z" fill="#e83a2c"/><circle cx="711.7" cy="420.0" r="0.55" fill="#f4a095"/>
<path d="M719.8 413.8L723.2 417.2L719.8 420.6L716.4 417.2Z" fill="#e83a2c"/><circle cx="719.8" cy="417.2" r="0.55" fill="#f4a095"/>
<path d="M727.9 412.4L731.3 415.8L727.9 419.2L724.5 415.8Z" fill="#e83a2c"/><circle cx="727.9" cy="415.8" r="0.55" fill="#f4a095"/>
<path d="M736.0 410.6L739.4 414.0L736.0 417.4L732.6 414.0Z" fill="#e83a2c"/><circle cx="736.0" cy="414.0" r="0.55" fill="#f4a095"/>
<path d="M744.1 409.5L747.5 412.9L744.1 416.3L740.7 412.9Z" fill="#e83a2c"/><circle cx="744.1" cy="412.9" r="0.55" fill="#f4a095"/>
<path d="M752.2 407.5L755.6 410.9L752.2 414.3L748.8 410.9Z" fill="#e83a2c"/><circle cx="752.2" cy="410.9" r="0.55" fill="#f4a095"/>
<path d="M760.3 405.0L763.7 408.4L760.3 411.8L756.9 408.4Z" fill="#e83a2c"/><circle cx="760.3" cy="408.4" r="0.55" fill="#f4a095"/>
<path d="M768.4 402.9L771.8 406.3L768.4 409.7L765.0 406.3Z" fill="#e83a2c"/><circle cx="768.4" cy="406.3" r="0.55" fill="#f4a095"/>
<path d="M776.5 401.5L779.9 404.9L776.5 408.3L773.1 404.9Z" fill="#e83a2c"/><circle cx="776.5" cy="404.9" r="0.55" fill="#f4a095"/>
<path d="M784.6 398.0L788.0 401.4L784.6 404.8L781.2 401.4Z" fill="#e83a2c"/><circle cx="784.6" cy="401.4" r="0.55" fill="#f4a095"/>
<path d="M792.7 395.6L796.1 399.0L792.7 402.4L789.3 399.0Z" fill="#e83a2c"/><circle cx="792.7" cy="399.0" r="0.55" fill="#f4a095"/>
<path d="M800.8 392.4L804.2 395.8L800.8 399.2L797.4 395.8Z" fill="#e83a2c"/><circle cx="800.8" cy="395.8" r="0.55" fill="#f4a095"/>
<path d="M808.9 390.7L812.3 394.1L808.9 397.5L805.5 394.1Z" fill="#e83a2c"/><circle cx="808.9" cy="394.1" r="0.55" fill="#f4a095"/>
<path d="M817.0 388.3L820.4 391.7L817.0 395.1L813.6 391.7Z" fill="#e83a2c"/><circle cx="817.0" cy="391.7" r="0.55" fill="#f4a095"/>
<path d="M825.1 385.8L828.5 389.2L825.1 392.6L821.7 389.2Z" fill="#e83a2c"/><circle cx="825.1" cy="389.2" r="0.55" fill="#f4a095"/>
<path d="M833.2 384.3L836.6 387.7L833.2 391.1L829.8 387.7Z" fill="#e83a2c"/><circle cx="833.2" cy="387.7" r="0.55" fill="#f4a095"/>
<path d="M841.3 382.2L844.7 385.6L841.3 389.0L837.9 385.6Z" fill="#e83a2c"/><circle cx="841.3" cy="385.6" r="0.55" fill="#f4a095"/>
<path d="M849.4 381.8L852.8 385.2L849.4 388.6L846.0 385.2Z" fill="#e83a2c"/><circle cx="849.4" cy="385.2" r="0.55" fill="#f4a095"/>
<path d="M857.5 376.2L860.9 379.6L857.5 383.0L854.1 379.6Z" fill="#e83a2c"/><circle cx="857.5" cy="379.6" r="0.55" fill="#f4a095"/>
<path d="M865.6 373.7L869.0 377.1L865.6 380.5L862.2 377.1Z" fill="#e83a2c"/><circle cx="865.6" cy="377.1" r="0.55" fill="#f4a095"/>
<path d="M873.7 372.7L877.1 376.1L873.7 379.5L870.3 376.1Z" fill="#e83a2c"/><circle cx="873.7" cy="376.1" r="0.55" fill="#f4a095"/>
<path d="M881.8 370.3L885.2 373.7L881.8 377.1L878.4 373.7Z" fill="#e83a2c"/><circle cx="881.8" cy="373.7" r="0.55" fill="#f4a095"/>
<path d="M889.9 364.3L893.3 367.7L889.9 371.1L886.5 367.7Z" fill="#e83a2c"/><circle cx="889.9" cy="367.7" r="0.55" fill="#f4a095"/>
<path d="M898.0 362.2L901.4 365.6L898.0 369.0L894.6 365.6Z" fill="#e83a2c"/><circle cx="898.0" cy="365.6" r="0.55" fill="#f4a095"/>
<path d="M906.1 359.4L909.5 362.8L906.1 366.2L902.7 362.8Z" fill="#e83a2c"/><circle cx="906.1" cy="362.8" r="0.55" fill="#f4a095"/>
<path d="M914.2 353.8L917.6 357.2L914.2 360.6L910.8 357.2Z" fill="#e83a2c"/><circle cx="914.2" cy="357.2" r="0.55" fill="#f4a095"/>
<path d="M922.3 351.0L925.7 354.4L922.3 357.8L918.9 354.4Z" fill="#e83a2c"/><circle cx="922.3" cy="354.4" r="0.55" fill="#f4a095"/>
<path d="M930.4 350.0L933.8 353.4L930.4 356.8L927.0 353.4Z" fill="#e83a2c"/><circle cx="930.4" cy="353.4" r="0.55" fill="#f4a095"/>
<path d="M938.5 345.1L941.9 348.5L938.5 351.9L935.1 348.5Z" fill="#e83a2c"/><circle cx="938.5" cy="348.5" r="0.55" fill="#f4a095"/>
<path d="M946.6 358.0L950.0 361.4L946.6 364.8L943.2 361.4Z" fill="#e83a2c"/><circle cx="946.6" cy="361.4" r="0.55" fill="#f4a095"/>
<path d="M954.7 353.1L958.1 356.5L954.7 359.9L951.3 356.5Z" fill="#e83a2c"/><circle cx="954.7" cy="356.5" r="0.55" fill="#f4a095"/>
<path d="M962.8 351.7L966.2 355.1L962.8 358.5L959.4 355.1Z" fill="#e83a2c"/><circle cx="962.8" cy="355.1" r="0.55" fill="#f4a095"/>
<path d="M970.9 347.2L974.3 350.6L970.9 354.0L967.5 350.6Z" fill="#e83a2c"/><circle cx="970.9" cy="350.6" r="0.55" fill="#f4a095"/>
<path d="M979.0 344.9L982.4 348.3L979.0 351.7L975.6 348.3Z" fill="#e83a2c"/><circle cx="979.0" cy="348.3" r="0.55" fill="#f4a095"/>
<path d="M987.1 342.0L990.5 345.4L987.1 348.8L983.7 345.4Z" fill="#e83a2c"/><circle cx="987.1" cy="345.4" r="0.55" fill="#f4a095"/>
<path d="M995.2 339.2L998.6 342.6L995.2 346.0L991.8 342.6Z" fill="#e83a2c"/><circle cx="995.2" cy="342.6" r="0.55" fill="#f4a095"/>
<path d="M1003.3 335.7L1006.7 339.1L1003.3 342.5L999.9 339.1Z" fill="#e83a2c"/><circle cx="1003.3" cy="339.1" r="0.55" fill="#f4a095"/>
<path d="M1011.4 335.7L1014.8 339.1L1011.4 342.5L1008.0 339.1Z" fill="#e83a2c"/><circle cx="1011.4" cy="339.1" r="0.55" fill="#f4a095"/>
<path d="M1019.5 331.1L1022.9 334.5L1019.5 337.9L1016.1 334.5Z" fill="#e83a2c"/><circle cx="1019.5" cy="334.5" r="0.55" fill="#f4a095"/>
<path d="M1027.6 329.7L1031.0 333.1L1027.6 336.5L1024.2 333.1Z" fill="#e83a2c"/><circle cx="1027.6" cy="333.1" r="0.55" fill="#f4a095"/>
<path d="M1035.7 329.7L1039.1 333.1L1035.7 336.5L1032.3 333.1Z" fill="#e83a2c"/><circle cx="1035.7" cy="333.1" r="0.55" fill="#f4a095"/>
<path d="M1043.8 327.2L1047.2 330.6L1043.8 334.0L1040.4 330.6Z" fill="#e83a2c"/><circle cx="1043.8" cy="330.6" r="0.55" fill="#f4a095"/>
<path d="M1051.9 324.8L1055.3 328.2L1051.9 331.6L1048.5 328.2Z" fill="#e83a2c"/><circle cx="1051.9" cy="328.2" r="0.55" fill="#f4a095"/>
<path d="M1060.0 323.4L1063.4 326.8L1060.0 330.2L1056.6 326.8Z" fill="#e83a2c"/><circle cx="1060.0" cy="326.8" r="0.55" fill="#f4a095"/>
<path d="M1068.1 322.0L1071.5 325.4L1068.1 328.8L1064.7 325.4Z" fill="#e83a2c"/><circle cx="1068.1" cy="325.4" r="0.55" fill="#f4a095"/>
<path d="M1076.2 322.0L1079.6 325.4L1076.2 328.8L1072.8 325.4Z" fill="#e83a2c"/><circle cx="1076.2" cy="325.4" r="0.55" fill="#f4a095"/>
<path d="M1084.3 319.2L1087.7 322.6L1084.3 326.0L1080.9 322.6Z" fill="#e83a2c"/><circle cx="1084.3" cy="322.6" r="0.55" fill="#f4a095"/>
<path d="M1092.4 316.8L1095.8 320.2L1092.4 323.6L1089.0 320.2Z" fill="#e83a2c"/><circle cx="1092.4" cy="320.2" r="0.55" fill="#f4a095"/>
<path d="M1100.5 314.3L1103.9 317.7L1100.5 321.1L1097.1 317.7Z" fill="#e83a2c"/><circle cx="1100.5" cy="317.7" r="0.55" fill="#f4a095"/>
<path d="M1108.6 312.2L1112.0 315.6L1108.6 319.0L1105.2 315.6Z" fill="#e83a2c"/><circle cx="1108.6" cy="315.6" r="0.55" fill="#f4a095"/>
<path d="M1116.7 310.8L1120.1 314.2L1116.7 317.6L1113.3 314.2Z" fill="#e83a2c"/><circle cx="1116.7" cy="314.2" r="0.55" fill="#f4a095"/>
<path d="M1124.8 307.7L1128.2 311.1L1124.8 314.5L1121.4 311.1Z" fill="#e83a2c"/><circle cx="1124.8" cy="311.1" r="0.55" fill="#f4a095"/>
<path d="M1132.9 305.9L1136.3 309.3L1132.9 312.7L1129.5 309.3Z" fill="#e83a2c"/><circle cx="1132.9" cy="309.3" r="0.55" fill="#f4a095"/>
<path d="M1141.0 303.1L1144.4 306.5L1141.0 309.9L1137.6 306.5Z" fill="#e83a2c"/><circle cx="1141.0" cy="306.5" r="0.55" fill="#f4a095"/>
<path d="M1149.1 300.3L1152.5 303.7L1149.1 307.1L1145.7 303.7Z" fill="#e83a2c"/><circle cx="1149.1" cy="303.7" r="0.55" fill="#f4a095"/>
<path d="M1157.2 297.0L1160.6 300.4L1157.2 303.8L1153.8 300.4Z" fill="#e83a2c"/><circle cx="1157.2" cy="300.4" r="0.55" fill="#f4a095"/>
<path d="M1165.3 295.4L1168.7 298.8L1165.3 302.2L1161.9 298.8Z" fill="#e83a2c"/><circle cx="1165.3" cy="298.8" r="0.55" fill="#f4a095"/>
<path d="M1173.4 292.3L1176.8 295.7L1173.4 299.1L1170.0 295.7Z" fill="#e83a2c"/><circle cx="1173.4" cy="295.7" r="0.55" fill="#f4a095"/>
<path d="M1181.5 290.6L1184.9 294.0L1181.5 297.4L1178.1 294.0Z" fill="#e83a2c"/><circle cx="1181.5" cy="294.0" r="0.55" fill="#f4a095"/>
<path d="M1189.6 286.0L1193.0 289.4L1189.6 292.8L1186.2 289.4Z" fill="#e83a2c"/><circle cx="1189.6" cy="289.4" r="0.55" fill="#f4a095"/>
<path d="M1197.7 284.3L1201.1 287.7L1197.7 291.1L1194.3 287.7Z" fill="#e83a2c"/><circle cx="1197.7" cy="287.7" r="0.55" fill="#f4a095"/>
<path d="M1205.8 282.5L1209.2 285.9L1205.8 289.3L1202.4 285.9Z" fill="#e83a2c"/><circle cx="1205.8" cy="285.9" r="0.55" fill="#f4a095"/>
<path d="M1213.9 280.8L1217.3 284.2L1213.9 287.6L1210.5 284.2Z" fill="#e83a2c"/><circle cx="1213.9" cy="284.2" r="0.55" fill="#f4a095"/>
<path d="M1222.0 278.0L1225.4 281.4L1222.0 284.8L1218.6 281.4Z" fill="#e83a2c"/><circle cx="1222.0" cy="281.4" r="0.55" fill="#f4a095"/>
<path d="M1230.1 277.9L1233.5 281.3L1230.1 284.7L1226.7 281.3Z" fill="#e83a2c"/><circle cx="1230.1" cy="281.3" r="0.55" fill="#f4a095"/>
<path d="M1238.2 274.8L1241.6 278.2L1238.2 281.6L1234.8 278.2Z" fill="#e83a2c"/><circle cx="1238.2" cy="278.2" r="0.55" fill="#f4a095"/>
<path d="M1246.3 271.3L1249.7 274.7L1246.3 278.1L1242.9 274.7Z" fill="#e83a2c"/><circle cx="1246.3" cy="274.7" r="0.55" fill="#f4a095"/>
<path d="M1254.4 268.9L1257.8 272.3L1254.4 275.7L1251.0 272.3Z" fill="#e83a2c"/><circle cx="1254.4" cy="272.3" r="0.55" fill="#f4a095"/>
<path d="M1262.5 266.5L1265.9 269.9L1262.5 273.3L1259.1 269.9Z" fill="#e83a2c"/><circle cx="1262.5" cy="269.9" r="0.55" fill="#f4a095"/>
<path d="M1270.6 262.7L1274.0 266.1L1270.6 269.5L1267.2 266.1Z" fill="#e83a2c"/><circle cx="1270.6" cy="266.1" r="0.55" fill="#f4a095"/>
<path d="M1278.7 261.3L1282.1 264.7L1278.7 268.1L1275.3 264.7Z" fill="#e83a2c"/><circle cx="1278.7" cy="264.7" r="0.55" fill="#f4a095"/>
<path d="M1286.8 258.2L1290.2 261.6L1286.8 265.0L1283.4 261.6Z" fill="#e83a2c"/><circle cx="1286.8" cy="261.6" r="0.55" fill="#f4a095"/>
<path d="M1294.9 256.2L1298.3 259.6L1294.9 263.0L1291.5 259.6Z" fill="#e83a2c"/><circle cx="1294.9" cy="259.6" r="0.55" fill="#f4a095"/>
<path d="M1303.0 254.2L1306.4 257.6L1303.0 261.0L1299.6 257.6Z" fill="#e83a2c"/><circle cx="1303.0" cy="257.6" r="0.55" fill="#f4a095"/>
<path d="M1311.1 252.0L1314.5 255.4L1311.1 258.8L1307.7 255.4Z" fill="#e83a2c"/><circle cx="1311.1" cy="255.4" r="0.55" fill="#f4a095"/>
<path d="M1319.2 248.2L1322.6 251.6L1319.2 255.0L1315.8 251.6Z" fill="#e83a2c"/><circle cx="1319.2" cy="251.6" r="0.55" fill="#f4a095"/>
<path d="M1327.3 246.6L1330.7 250.0L1327.3 253.4L1323.9 250.0Z" fill="#e83a2c"/><circle cx="1327.3" cy="250.0" r="0.55" fill="#f4a095"/>
<path d="M1335.4 244.9L1338.8 248.3L1335.4 251.7L1332.0 248.3Z" fill="#e83a2c"/><circle cx="1335.4" cy="248.3" r="0.55" fill="#f4a095"/>
<path d="M1343.5 242.3L1346.9 245.7L1343.5 249.1L1340.1 245.7Z" fill="#e83a2c"/><circle cx="1343.5" cy="245.7" r="0.55" fill="#f4a095"/>
<path d="M1351.6 241.6L1355.0 245.0L1351.6 248.4L1348.2 245.0Z" fill="#e83a2c"/><circle cx="1351.6" cy="245.0" r="0.55" fill="#f4a095"/>
<line x1="594" x2="619" y1="647" y2="647" stroke="#fbb615" stroke-width="1.6"/><circle cx="606.3" cy="647" r="2.6" fill="#fbb615"/>
<line x1="875" x2="900" y1="647" y2="647" stroke="#e8402e" stroke-width="1.6"/><path d="M887.5 643.5L891 647L887.5 650.5L884 647Z" fill="#e8402e"/>
<text transform="translate(13.50 26) scale(1 1.05)" font-size="17.87" font-weight="bold" fill="#3a3a3a">Vigorous EA V1.2 (official)</text>
<text transform="translate(13.20 55) scale(1 1.05)" font-size="17.88" fill="#444">Demo (USD),</text>
<text transform="translate(124.20 55) scale(1 1.05)" font-size="17.92" fill="#444">Trader&#39;s Way</text>
<text transform="translate(233.70 55) scale(1 1.05)" font-size="18.64" fill="#444">, Technical</text>
<text transform="translate(326.70 55) scale(1 1.05)" font-size="18.57" fill="#444">, Automated</text>
<text transform="translate(431.90 55) scale(1 1.05)" font-size="17.74" fill="#444">, 1:100</text>
<text transform="translate(489.50 55) scale(1 1.05)" font-size="18.74" fill="#444">, MetaTrader 4</text>
<text transform="translate(808.20 28.7) scale(1 1.05)" font-size="18.67" fill="#3a3a3a">Track record verified</text>
<text transform="translate(808.20 54.6) scale(1 1.05)" font-size="18.74" fill="#3a3a3a">Trading privileges verified</text>
<text x="1272.75" y="41.7" font-size="19.23" stroke="#fff" stroke-width="0.5" fill="#fff">Discuss</text>
<text x="14.25" y="125" font-size="20.43" stroke="#3c3c3c" stroke-width="0.5" fill="#3c3c3c">Info</text>
<text transform="translate(85.60 125) scale(1 1.05)" font-size="19.06" fill="#555">Stats</text>
<text transform="translate(166.00 125) scale(1 1.05)" font-size="18.20" fill="#444">General</text>
<text x="365.35" y="125" font-size="18.44" stroke="#3c3c3c" stroke-width="0.5" fill="#3c3c3c">Chart</text>
<text transform="translate(448.50 125) scale(1 1.05)" font-size="18.99" fill="#555">Growth</text>
<text transform="translate(545.20 125) scale(1 1.05)" font-size="18.78" fill="#444">Balance</text>
<text transform="translate(649.60 125) scale(1 1.05)" font-size="19.64" fill="#444">Profit</text>
<text transform="translate(732.40 125) scale(1 1.05)" font-size="18.96" fill="#444">Drawdown</text>
<text transform="translate(10.30 169.9) scale(1 1.05)" font-size="17.44" font-weight="bold" fill="#3a3a3a">Gain :</text>
<text transform="translate(248.00 172.3) scale(1 1.05)" font-size="18.30" font-weight="bold" fill="#13a538">+8.32%</text>
<text transform="translate(10.30 209.9) scale(1 1.05)" font-size="18.21" fill="#3a3a3a">Abs. Gain:</text>
<text transform="translate(248.80 212.7) scale(1 1.05)" font-size="18.12" fill="#13a538">+8.09%</text>
<text transform="translate(9.30 267.2) scale(1 1.05)" font-size="18.67" fill="#3a3a3a">Daily</text>
<text transform="translate(259.90 270.3) scale(1 1.05)" font-size="17.87" fill="#3a3a3a">0.05%</text>
<text transform="translate(9.30 306.9) scale(1 1.05)" font-size="19.80" fill="#3a3a3a">Monthly:</text>
<text transform="translate(259.40 310.7) scale(1 1.05)" font-size="17.94" fill="#3a3a3a">1.49%</text>
<text transform="translate(9.30 346.6) scale(1 1.05)" font-size="18.91" fill="#3a3a3a">Drawdown:</text>
<text transform="translate(248.30 346.6) scale(1 1.05)" font-size="18.28" fill="#3a3a3a">13.90%</text>
<text transform="translate(9.30 395.5) scale(1 1.05)" font-size="18.88" fill="#3a3a3a">Balance:</text>
<text transform="translate(228.20 395.5) scale(1 1.05)" font-size="18.05" fill="#3a3a3a">$5,404.71</text>
<text transform="translate(9.30 428.8) scale(1 1.05)" font-size="18.93" fill="#3a3a3a">Equity:</text>
<text transform="translate(145.30 428.8) scale(1 1.05)" font-size="16.93" fill="#555">(100.00%)</text>
<text transform="translate(228.20 428.8) scale(1 1.05)" font-size="18.05" fill="#3a3a3a">$5,404.71</text>
<text transform="translate(9.30 460.5) scale(1 1.05)" font-size="19.60" fill="#3a3a3a">Highest:</text>
<text transform="translate(163.90 460.5) scale(1 1.05)" font-size="17.88" fill="#9a9a9a">(Jul 27)</text>
<text transform="translate(228.20 460.5) scale(1 1.05)" font-size="18.05" fill="#3a3a3a">$5,404.71</text>
<text transform="translate(9.30 492.3) scale(1 1.05)" font-size="19.93" fill="#3a3a3a">Profit:</text>
<text transform="translate(242.60 492.3) scale(1 1.05)" font-size="18.24" fill="#13a538">$404.71</text>
<text transform="translate(9.30 524.5) scale(1 1.05)" font-size="19.12" fill="#3a3a3a">Interest</text>
<text transform="translate(257.90 524.5) scale(1 1.05)" font-size="18.59" fill="#3a3a3a">-$3.72</text>
<text transform="translate(9.30 574.9) scale(1 1.05)" font-size="19.37" fill="#3a3a3a">Deposits:</text>
<text transform="translate(227.90 574.9) scale(1 1.05)" font-size="18.47" fill="#3a3a3a">$5,000.00</text>
<text transform="translate(10.30 606.5) scale(1 1.05)" font-size="18.90" fill="#3a3a3a">Withdrawals:</text>
<text transform="translate(263.00 606.5) scale(1 1.05)" font-size="18.81" fill="#3a3a3a">$0.00</text>
<text transform="translate(9.30 656.3) scale(1 1.05)" font-size="18.80" fill="#3a3a3a">Updated</text>
<text transform="translate(217.60 656.3) scale(1 1.05)" font-size="18.71" fill="#3a3a3a">1 Hour ago</text>
<text transform="translate(10.30 688) scale(1 1.05)" font-size="18.95" fill="#3a3a3a">Tracking</text>
<text transform="translate(289.30 688.5) scale(1 1.05)" font-size="19.40" fill="#3a3a3a">32</text>
<text x="417.9" y="185.2" font-size="16.8" fill="#666" text-anchor="end">10%</text>
<text x="417.9" y="283.9" font-size="16.8" fill="#666" text-anchor="end">7.5%</text>
<text x="417.9" y="381.9" font-size="16.8" fill="#666" text-anchor="end">5%</text>
<text x="417.9" y="479.9" font-size="16.8" fill="#666" text-anchor="end">2.5%</text>
<text x="417.9" y="579.9" font-size="16.8" fill="#666" text-anchor="end">0%</text>
<text x="386.10" y="604.1" font-size="17.09" fill="#666">Feb 15, &#39;21</text>
<text x="563.80" y="604.1" font-size="17.09" fill="#666">Mar 18, &#39;21</text>
<text x="744.90" y="604.1" font-size="16.87" fill="#666">Apr 20, &#39;21</text>
<text x="918.90" y="604.1" font-size="17.20" fill="#666">May 20, &#39;21</text>
<text x="1100.50" y="604.1" font-size="16.96" fill="#666">Jun 21, &#39;21</text>
<text x="1278.90" y="604.1" font-size="16.98" fill="#666">Jul 21, &#39;21</text>
<text transform="translate(626.50 652.3) scale(1 0.93)" font-size="18.72" fill="#444">Equity Growth</text>
<text transform="translate(908.40 652.3) scale(1 0.93)" font-size="18.80" fill="#444">Growth</text>
<line x1="123.5" x2="221" y1="56.5" y2="56.5" stroke="#444" stroke-width="1"/>
<g stroke="#333" stroke-width="1" stroke-dasharray="1 1">
<line x1="10" x2="58.4" y1="175.5" y2="175.5"/>
<line x1="10" x2="94.2" y1="215.5" y2="215.5"/>
<line x1="10" x2="50" y1="272.5" y2="272.5"/>
<line x1="10" x2="82" y1="312.5" y2="312.5"/>
</g>
</svg>
</body></html>
